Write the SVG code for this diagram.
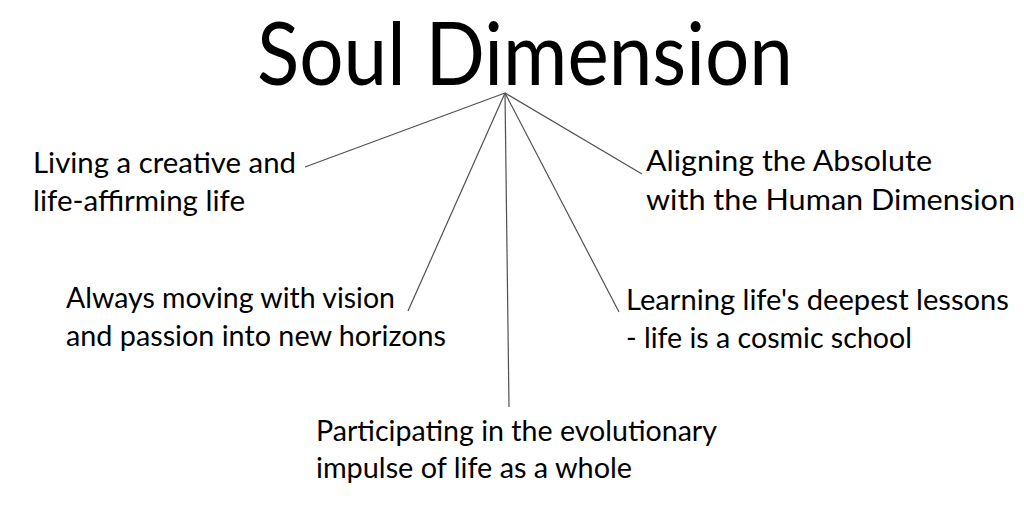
<svg xmlns="http://www.w3.org/2000/svg" width="1024" height="518" viewBox="0 0 1024 518">
<style>
.t{font-family:Lato,"Open Sans","Liberation Sans",sans-serif;font-size:29px;fill:#000}
.title{font-family:Lato,"Open Sans","Liberation Sans",sans-serif;font-size:88px;fill:#000}
.c line{stroke:#505050;stroke-width:1.2;fill:none}
</style>
<rect width="1024" height="518" fill="#fff"/>
<g id="title"><text class="title" x="257" y="85" textLength="536" lengthAdjust="spacingAndGlyphs">Soul Dimension</text></g>
<g class="c" id="connectors">
<line x1="505" y1="93" x2="305" y2="167"/>
<line x1="505" y1="93" x2="408" y2="311"/>
<line x1="505" y1="93" x2="509" y2="407"/>
<line x1="505" y1="93" x2="619" y2="312"/>
<line x1="505" y1="93" x2="642" y2="174"/>
</g>
<g id="n1"><text class="t" x="33" y="173" textLength="263" lengthAdjust="spacingAndGlyphs">Living a creative and</text><text class="t" x="33" y="211" textLength="212" lengthAdjust="spacingAndGlyphs">life-affirming life</text></g>
<g id="n2"><text class="t" x="646" y="171" textLength="286" lengthAdjust="spacingAndGlyphs">Aligning the Absolute</text><text class="t" x="646" y="210" textLength="369" lengthAdjust="spacingAndGlyphs">with the Human Dimension</text></g>
<g id="n3"><text class="t" x="66" y="308" textLength="329" lengthAdjust="spacingAndGlyphs">Always moving with vision</text><text class="t" x="66" y="346" textLength="380" lengthAdjust="spacingAndGlyphs">and passion into new horizons</text></g>
<g id="n4"><text class="t" x="626" y="310" textLength="383" lengthAdjust="spacingAndGlyphs">Learning life's deepest lessons</text><text class="t" x="626" y="348" textLength="286" lengthAdjust="spacingAndGlyphs">- life is a cosmic school</text></g>
<g id="n5"><text class="t" x="316" y="441" textLength="401" lengthAdjust="spacingAndGlyphs">Participating in the evolutionary</text><text class="t" x="316" y="478" textLength="316" lengthAdjust="spacingAndGlyphs">impulse of life as a whole</text></g>
</svg>
